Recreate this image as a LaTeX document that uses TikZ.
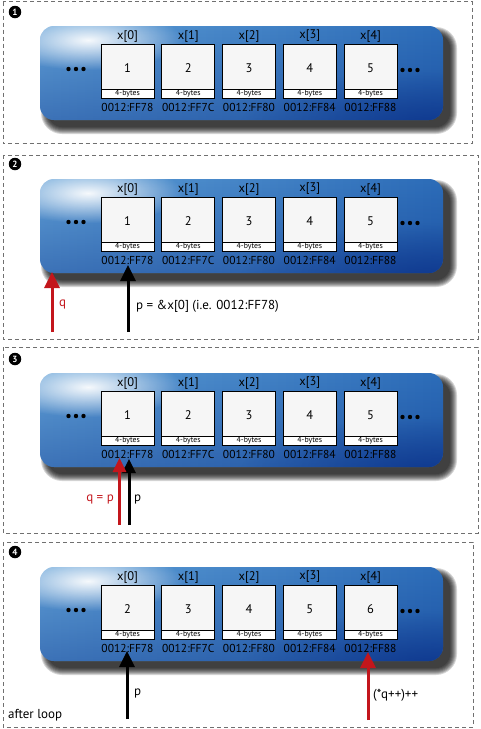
\documentclass[tikz,border=0pt]{standalone}
\usepackage{fontspec}
\setmainfont{PT Sans}
\usetikzlibrary{arrows.meta,fadings}
\definecolor{myred}{HTML}{C3161C}
\definecolor{blueA}{HTML}{5E9ED6}
\definecolor{blueB}{HTML}{2C6CB8}
\definecolor{navy}{HTML}{0A3088}
\definecolor{cellgray}{HTML}{F6F6F6}
\definecolor{framegray}{HTML}{707070}
\tikzfading[name=glowfade, inner color=transparent!0, outer color=transparent!100]
\tikzfading[name=bottomdark, top color=transparent!100, bottom color=transparent!0]
\tikzset{
  frame/.style={draw=framegray, line width=1pt, dash pattern=on 4pt off 3pt},
  badge/.style={circle, fill=black, text=white, inner sep=0pt, minimum size=12.5pt,
    font=\bfseries\fontsize{9}{9}\selectfont},
  idx/.style={font=\fontsize{12.5}{14}\selectfont, inner sep=0pt},
  val/.style={font=\fontsize{12.5}{14}\selectfont, inner sep=0pt},
  addr/.style={font=\fontsize{11.5}{13}\selectfont, inner sep=0pt},
  bytes/.style={font=\fontsize{7.8}{8}\selectfont, inner sep=0pt},
  lbl/.style={font=\fontsize{13}{15}\selectfont, inner sep=0pt, anchor=west},
  ptrarrow/.style={line width=3pt, -{Triangle[length=16pt,width=15pt]}},
  ptrarrowsmall/.style={line width=3pt, -{Triangle[length=14pt,width=13pt]}},
}
\newcommand\mempanel[3]{%
  \begin{scope}[shift={(0,#2)}]
    % shadow
    \foreach \e in {0,...,7}{
      \fill[black, opacity=0.16, rounded corners=14pt+\e pt]
        (48-\e,34-\e) rectangle (450+\e,127+\e);
    }
    % body
    \shade[rounded corners=14pt, left color=blueA, right color=blueB]
      (40,26) rectangle (443,120);
    \begin{scope}
      \clip[rounded corners=14pt] (40,26) rectangle (443,120);
      \fill[navy, path fading=bottomdark, opacity=0.4] (40,26) rectangle (443,120);
      \fill[navy, path fading=glowfade, opacity=0.75] (430,125) ellipse [x radius=190, y radius=55];
      \fill[white, path fading=glowfade, opacity=0.95] (88,40) ellipse [x radius=95, y radius=30];
    \end{scope}
    % dots
    \foreach \d in {68.5,76,83.5}{\fill (\d,69) circle (2.2pt);}
    \foreach \d in {402.5,410,417.5}{\fill (\d,70) circle (2.2pt);}
    % cells
    \foreach \v/\a [count=\i from 0] in {#3}{
      \pgfmathsetmacro\xx{101+\i*60.75}
      \fill[cellgray] (\xx,44) rectangle ++(53,45);
      \fill[white] (\xx,89) rectangle ++(53,9);
      \draw[line width=0.9pt] (\xx,44) rectangle ++(53,54);
      \draw[line width=0.9pt] (\xx,89) -- ++(53,0);
      \node[idx] (x#1-\i) at (\xx+26.5,36) {x[\i]};
      \node[val] (v#1-\i) at (\xx+26.5,68.5) {\v};
      \node[bytes] (b#1-\i) at (\xx+26.5,93.5) {4-bytes};
      \node[addr] (a#1-\i) at (\xx+26.5,107) {0012:\a};
    }
  \end{scope}
}
\begin{document}
\begin{tikzpicture}[x=1pt,y=-1pt]
\useasboundingbox (0,0) rectangle (480,729);
% frames
\draw[frame] (3,1.5) rectangle (472,143);
\draw[frame] (3,155) rectangle (478,339);
\draw[frame] (3,347) rectangle (478,533);
\draw[frame] (3,542) rectangle (473,727);
% badges
\node[badge] (n1) at (15,12) {1};
\node[badge] (n2) at (15,164) {2};
\node[badge] (n3) at (15,359) {3};
\node[badge] (n4) at (15,552) {4};
% panels
\mempanel{1}{0}{1/FF78,2/FF7C,3/FF80,4/FF84,5/FF88}
\mempanel{2}{153}{1/FF78,2/FF7C,3/FF80,4/FF84,5/FF88}
\mempanel{3}{347}{1/FF78,2/FF7C,3/FF80,4/FF84,5/FF88}
\mempanel{4}{541}{2/FF78,3/FF7C,4/FF80,5/FF84,6/FF88}
% panel 2 pointers
\coordinate (q2s) at (52,332);
\coordinate (q2e) at (52,272);
\coordinate (p2s) at (128,332);
\coordinate (p2e) at (128,265);
\draw[ptrarrow, myred] (q2s) -- (q2e);
\draw[ptrarrow, black] (p2s) -- (p2e);
\node[lbl, text=myred] (q2l) at (59,304) {q};
\node[lbl] (p2l) at (136,306) {p = \&x[0] (i.e. 0012:FF78)};
% panel 3 pointers
\coordinate (p3s) at (129,525);
\coordinate (p3e) at (129,459);
\coordinate (q3s) at (119.5,525);
\coordinate (q3e) at (119.5,458);
\draw[ptrarrowsmall, black] (p3s) -- (p3e);
\draw[ptrarrowsmall, myred] (q3s) -- (q3e);
\node[lbl, anchor=east, text=myred] (q3l) at (114,499) {q = p};
\node[lbl] (p3l) at (134,499) {p};
% panel 4 pointers
\coordinate (p4s) at (127,719);
\coordinate (p4e) at (127,651);
\coordinate (q4s) at (368,720);
\coordinate (q4e) at (368,652);
\draw[ptrarrow, black] (p4s) -- (p4e);
\draw[ptrarrow, myred] (q4s) -- (q4e);
\node[lbl] (p4l) at (134,693) {p};
\node[lbl] (q4l) at (373,695) {(*q++)++};
\node[lbl] (after) at (8,715) {after loop};
\end{tikzpicture}
\end{document}
